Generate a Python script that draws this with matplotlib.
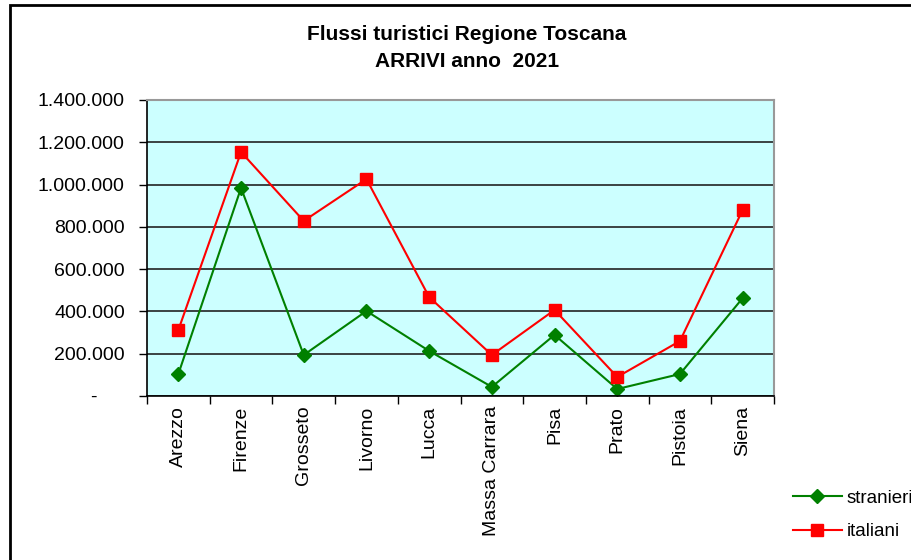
import matplotlib.pyplot as plt
from matplotlib.ticker import FuncFormatter, FixedLocator
from matplotlib.patches import Rectangle

plt.rcParams['font.family'] = ['Liberation Sans', 'DejaVu Sans']

# province e arrivi 2021
province = ['Arezzo', 'Firenze', 'Grosseto', 'Livorno', 'Lucca', 'Massa Carrara',
            'Pisa', 'Prato', 'Pistoia', 'Siena']
stranieri = [104000, 984000, 194000, 402000, 213000, 43000, 289000, 33000, 104000, 463000]
italiani = [312000, 1154000, 828000, 1026000, 468000, 194000, 407000, 90000, 260000, 880000]
y_ticks = [0, 200000, 400000, 600000, 800000, 1000000, 1200000, 1400000]


def fmt(v, pos):
    # zero come nel formato contabile di Excel
    if v == 0:
        return '-     '
    return '{:,.0f}'.format(v).replace(',', '.')


fig = plt.figure(figsize=(9.11, 5.6), dpi=100)

# cornice nera del grafico
fig.patches.append(Rectangle((10 / 911, -0.05), 1.0, 1 - 5 / 560 + 0.05, transform=fig.transFigure,
                             fill=False, edgecolor='black', linewidth=2))

ax = fig.add_axes([147 / 911, 1 - 396 / 560, (774 - 147) / 911, (396 - 100) / 560])
ax.set_facecolor('#ccffff')

x = list(range(len(province)))
ax.plot(x, stranieri, color='green', marker='D', markersize=7, linewidth=1.5, label='stranieri')
ax.plot(x, italiani, color='red', marker='s', markersize=8, linewidth=1.5, label='italiani')

ax.set_xlim(-0.5, len(province) - 0.5)
ax.set_ylim(0, 1400000)
ax.set_yticks(y_ticks)
ax.yaxis.set_major_formatter(FuncFormatter(fmt))
ax.yaxis.grid(True, color='#222222', linewidth=1.2)
ax.set_axisbelow(True)

# etichette al centro, tacche sui confini delle categorie
ax.set_xticks(x)
ax.set_xticklabels(province, rotation=90)
ax.tick_params(axis='x', which='major', length=0, pad=7)
ax.xaxis.set_minor_locator(FixedLocator([i - 0.5 for i in range(len(province) + 1)]))
ax.tick_params(axis='x', which='minor', length=6, width=1, color='black')
ax.tick_params(axis='y', length=6, width=1, labelsize=14, pad=10)
ax.tick_params(axis='x', labelsize=14)

for s in ['top', 'right']:
    ax.spines[s].set_color('#999999')
    ax.spines[s].set_linewidth(1.5)
for s in ['left', 'bottom']:
    ax.spines[s].set_color('black')
    ax.spines[s].set_linewidth(1.2)

fig.text(467 / 911, 1 - 35 / 560, 'Flussi turistici Regione Toscana', ha='center', va='center',
         fontsize=15, fontweight='bold')
fig.text(467 / 911, 1 - 61 / 560, 'ARRIVI anno  2021', ha='center', va='center',
         fontsize=15, fontweight='bold')

fig.legend(loc='upper left', bbox_to_anchor=(776 / 911, 1 - 473 / 560), frameon=False,
           fontsize=13.5, handlelength=2.6, labelspacing=0.85, handletextpad=0.25)

plt.savefig('out.png', dpi=100)
